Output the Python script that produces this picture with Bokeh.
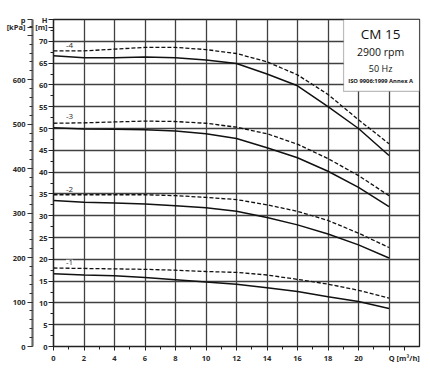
from bokeh.plotting import figure
from bokeh.models import (Range1d, LinearAxis, SingleIntervalTicker, FixedTicker, Label, BoxAnnotation)
from bokeh.embed import file_html
from bokeh.resources import INLINE

# ---- data ----
Q = [0, 2, 4, 6, 8, 10, 12, 14, 16, 18, 20, 22]
h4_solid = [66.7, 66.2, 66.2, 66.4, 66.2, 65.7, 64.9, 62.5, 59.8, 55.0, 50.0, 43.8]
h4_dashed = [67.8, 67.8, 68.2, 68.6, 68.6, 68.1, 67.2, 65.3, 62.3, 57.8, 52.0, 46.5]
h3_solid = [50.2, 49.9, 49.8, 49.7, 49.4, 48.8, 47.7, 45.6, 43.3, 40.2, 36.5, 32.1]
h3_dashed = [51.2, 51.3, 51.5, 51.7, 51.6, 51.2, 50.3, 48.8, 46.4, 43.1, 39.2, 34.6]
h2_solid = [33.5, 33.1, 32.9, 32.7, 32.3, 31.8, 31.0, 29.6, 27.9, 25.8, 23.3, 20.3]
h2_dashed = [34.8, 34.8, 34.8, 34.8, 34.6, 34.2, 33.7, 32.5, 31.0, 28.9, 26.0, 22.7]
h1_solid = [16.7, 16.4, 16.2, 15.8, 15.3, 14.8, 14.3, 13.5, 12.6, 11.4, 10.3, 8.7]
h1_dashed = [18.0, 17.9, 17.8, 17.7, 17.5, 17.2, 17.0, 16.4, 15.4, 14.3, 12.9, 11.1]
stage_names = ["-4", "-3", "-2", "-1"]
stage_label_h = [69.1, 52.7, 36.1, 19.3]
info_lines = ["CM 15", "2900 rpm", "50 Hz", "ISO 9906:1999 Annex A"]
q_ticks = [0, 2, 4, 6, 8, 10, 12, 14, 16, 18, 20, 22, 23]
q_minor = [1, 3, 5, 7, 9, 11, 13, 15, 17, 19, 21, 23]
h_ticks = [0, 5, 10, 15, 20, 25, 30, 35, 40, 45, 50, 55, 60, 65, 70, 73.2, 75]
h_minor = [2.5, 7.5, 12.5, 17.5, 22.5, 27.5, 32.5, 37.5, 42.5, 47.5, 52.5,
           57.5, 62.5, 67.5, 72.5]
kpa_ticks = [0, 100, 200, 300, 400, 500, 600, 700]
kpa_minor = list(range(0, 740, 20))

H_MAX = 75
H_UNIT_POS = 73.2
KPA_PER_M = 9.80665
P_MAX = H_MAX * KPA_PER_M
P_UNIT_POS = H_UNIT_POS * KPA_PER_M
FONT = "Open Sans"
TXT = "#2a2a2a"

p = figure(frame_width=366, frame_height=327, x_range=Range1d(0, 24), y_range=Range1d(0, H_MAX),
           output_backend="svg", toolbar_location=None,
           min_border_left=53, min_border_right=2, min_border_top=19, min_border_bottom=15)
p.extra_y_ranges = {"p": Range1d(0, P_MAX)}
p.outline_line_color = "#222222"
p.outline_line_width = 1.3
p.background_fill_color = "white"
p.border_fill_color = "white"

# grids
p.xgrid.ticker = SingleIntervalTicker(interval=2)
p.ygrid.ticker = SingleIntervalTicker(interval=5)
for g in (p.xgrid, p.ygrid):
    g.grid_line_color = "#404040"
    g.grid_line_width = 1.3

# x axis
xa = p.xaxis[0]
xa.ticker = FixedTicker(ticks=q_ticks, minor_ticks=q_minor)
xa.major_label_overrides = {22: "", 23: "Q [m³/h]"}
xa.axis_line_color = "#222222"
xa.major_tick_in = 0
xa.major_tick_out = 4
xa.minor_tick_in = 0
xa.minor_tick_out = 3
xa.major_tick_line_color = "#222222"
xa.minor_tick_line_color = "#222222"
xa.major_label_standoff = 2
xa.major_label_text_font = FONT
xa.major_label_text_font_size = "7.5px"
xa.major_label_text_font_style = "bold"
xa.major_label_text_color = TXT

# H axis
ya = p.yaxis[0]
ya.ticker = FixedTicker(ticks=h_ticks, minor_ticks=h_minor)
ya.major_label_overrides = {75: "H", H_UNIT_POS: "[m]"}
ya.axis_line_color = "#222222"
ya.axis_line_width = 1.3
ya.major_tick_in = 0
ya.major_tick_out = 5
ya.minor_tick_in = 0
ya.minor_tick_out = 3
ya.major_tick_line_color = "#222222"
ya.minor_tick_line_color = "#222222"
ya.major_label_standoff = 1
ya.major_label_text_font = FONT
ya.major_label_text_font_size = "7.5px"
ya.major_label_text_font_style = "bold"
ya.major_label_text_color = TXT

# p axis (kPa)
pa = LinearAxis(y_range_name="p",
                ticker=FixedTicker(ticks=kpa_ticks + [P_UNIT_POS, P_MAX], minor_ticks=kpa_minor))
pa.major_label_overrides = {700: "", P_UNIT_POS: "[kPa]", P_MAX: "p"}
pa.axis_line_color = "#666666"
pa.axis_line_width = 2.2
pa.major_tick_in = 0
pa.major_tick_out = 5
pa.minor_tick_in = 0
pa.minor_tick_out = 3
pa.major_tick_line_color = "#333333"
pa.minor_tick_line_color = "#333333"
pa.major_label_standoff = 2
pa.major_label_text_font = FONT
pa.major_label_text_font_size = "7.5px"
pa.major_label_text_font_style = "bold"
pa.major_label_text_color = TXT
p.add_layout(pa, "left")

# curves
solids = [h4_solid, h3_solid, h2_solid, h1_solid]
dashes = [h4_dashed, h3_dashed, h2_dashed, h1_dashed]
for s, d in zip(solids, dashes):
    p.line(Q, d, line_color="#111111", line_width=1.3, line_dash="4 2")
    p.line(Q, s, line_color="#111111", line_width=1.5)

for name, hy in zip(stage_names, stage_label_h):
    p.add_layout(Label(x=1.05, y=hy, text=name, text_font=FONT, text_font_size="8px",
                       text_color=TXT, text_align="center", text_baseline="middle",
                       background_fill_color="white", border_line_color=None))

# info box
p.add_layout(BoxAnnotation(left=19.02, right=24, bottom=58.5, top=H_MAX,
                           fill_color="white", fill_alpha=1.0,
                           line_color="#222222", line_width=1.2))
info_y = [71.6, 67.5, 63.8, 61.0]
info_size = ["13.5px", "10.5px", "9px", "5.8px"]
info_style = ["normal", "normal", "normal", "bold"]
for t, yy, fs, st in zip(info_lines, info_y, info_size, info_style):
    p.add_layout(Label(x=21.45, y=yy, text=t, text_font=FONT, text_font_size=fs,
                       text_font_style=st, text_color="#111111",
                       text_align="center", text_baseline="middle"))

open("out.html", "w").write(file_html(p, INLINE))
